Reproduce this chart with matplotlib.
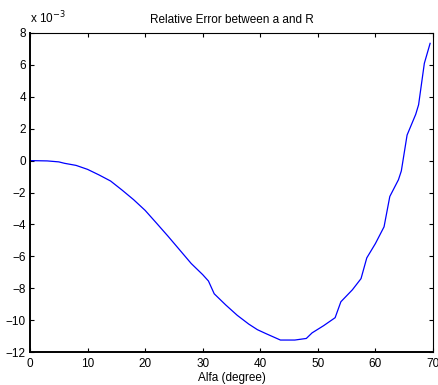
import matplotlib
matplotlib.use('Agg')
import matplotlib.pyplot as plt

plt.rcParams['font.family'] = ['Liberation Sans', 'DejaVu Sans']

# relative error (units of 1e-3) vs angle in degrees
alfa = [0, 3, 5, 6, 8, 10, 12, 14, 16, 18, 20, 22, 24, 26, 28, 30, 31, 32,
        34, 36, 38, 39.5, 41, 43.5, 46, 48, 49, 51, 53, 54, 56, 57.5, 58.5,
        60, 61.5, 62.5, 64, 64.5, 65.5, 67, 67.5, 68.5, 69.5]
err = [0, -0.02, -0.08, -0.17, -0.3, -0.55, -0.9, -1.28, -1.85, -2.45, -3.12,
       -3.93, -4.75, -5.6, -6.45, -7.15, -7.55, -8.35, -9.05, -9.7, -10.25,
       -10.6, -10.85, -11.25, -11.25, -11.15, -10.8, -10.35, -9.85, -8.85,
       -8.1, -7.4, -6.1, -5.2, -4.15, -2.25, -1.2, -0.65, 1.6, 2.9, 3.5, 6.1,
       7.35]

xticks = [0, 10, 20, 30, 40, 50, 60, 70]
yticks = [-12, -10, -8, -6, -4, -2, 0, 2, 4, 6, 8]

fs = 8.5
fig = plt.figure(figsize=(4.39, 3.85), dpi=100)
ax = fig.add_axes([0.0683, 0.0857, 0.918, 0.8286])
ax.plot(alfa, err, color='#0000ff', linewidth=0.9)

ax.set_xlim(0, 70)
ax.set_ylim(-12, 8)
ax.set_xticks(xticks)
ax.set_yticks(yticks)
ax.tick_params(direction='in', top=True, right=True, labelsize=fs, length=3,
               width=0.8, pad=3)
ax.tick_params(axis='x', pad=4)
for s in ['left', 'bottom']:
    ax.spines[s].set_linewidth(1.4)
for s in ['right', 'top']:
    ax.spines[s].set_linewidth(0.8)

ax.set_title('Relative Error between a and R', fontsize=fs, pad=7)
ax.set_xlabel('Alfa (degree)', fontsize=fs, labelpad=2)
ax.text(0.0, 1.02, r'x 10$^{-3}$', transform=ax.transAxes, fontsize=fs,
        ha='left', va='bottom')

fig.savefig('out.png', dpi=100)
